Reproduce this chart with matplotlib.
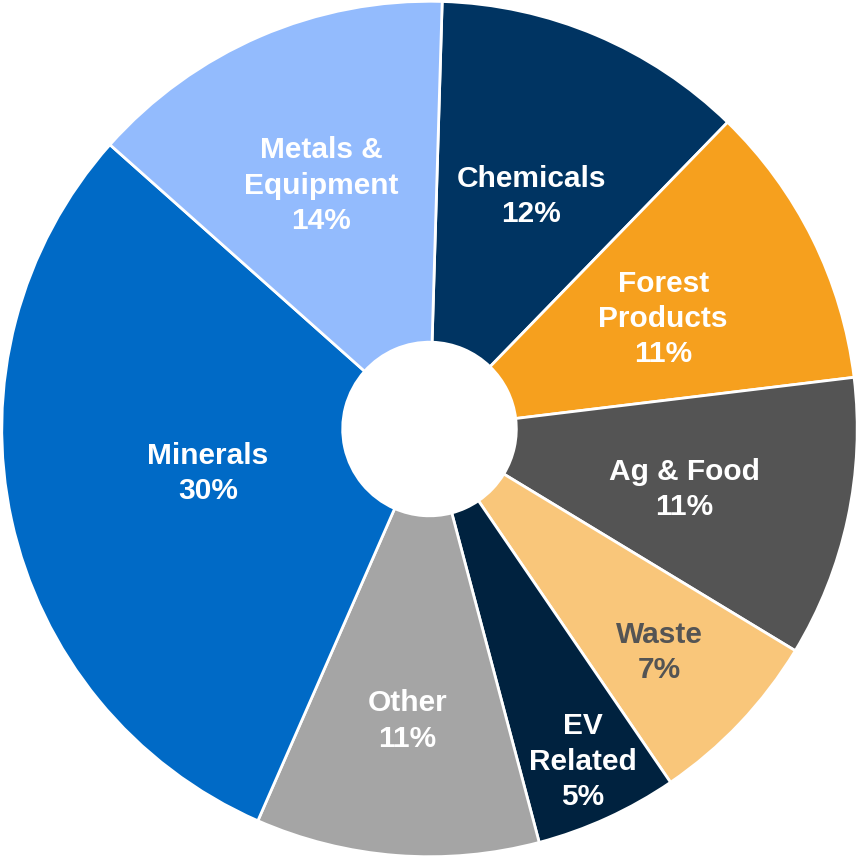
import numpy as np
import matplotlib.pyplot as plt

# доли сегментов, считанные по углам на картинке (по часовой стрелке от верха)
categories = ["Chemicals", "Forest\nProducts", "Ag & Food", "Waste",
              "EV\nRelated", "Other", "Minerals", "Metals &\nEquipment"]
shares = [11.8, 10.8, 10.6, 6.8, 5.4, 10.7, 30.0, 13.9]
shown_pct = [12, 11, 11, 7, 5, 11, 30, 14]

colors = ["#003462", "#F6A01E", "#545454", "#F9C67A",
          "#00223F", "#A5A5A5", "#006AC6", "#93BBFD"]
text_colors = ["white", "white", "white", "#545454",
               "white", "white", "white", "white"]
# положение подписей: доля внешнего радиуса и сдвиг вниз в пикселях
label_r = [0.61, 0.61, 0.61, 0.74, 0.86, 0.68, 0.53, 0.64]
label_dy = [8, 6, 6, 6, -2, 2, -4, 8]

plt.rcParams["font.family"] = ["Liberation Sans", "DejaVu Sans"]

fig = plt.figure(figsize=(8.59, 8.58), dpi=100)
ax = fig.add_axes([0, 0, 1, 1])

R = 0.997
wedges, _ = ax.pie(shares, colors=colors, startangle=88.3, counterclock=False,
                   radius=R, wedgeprops=dict(width=R * 0.797, edgecolor="white", linewidth=2))

px = 2 / 858  # один пиксель в единицах осей
for w, name, pct, tc, r, dy in zip(wedges, categories, shown_pct, text_colors, label_r, label_dy):
    ang = np.deg2rad((w.theta1 + w.theta2) / 2)
    x, y = r * R * np.cos(ang), r * R * np.sin(ang) - dy * px
    ax.text(x, y, f"{name}\n{pct}%", ha="center", va="center", color=tc,
            fontsize=21.5, fontweight="bold", linespacing=1.33)

ax.set_xlim(-1, 1)
ax.set_ylim(-1, 1)
ax.set_aspect("equal")
ax.axis("off")

fig.savefig("out.png", dpi=100)
